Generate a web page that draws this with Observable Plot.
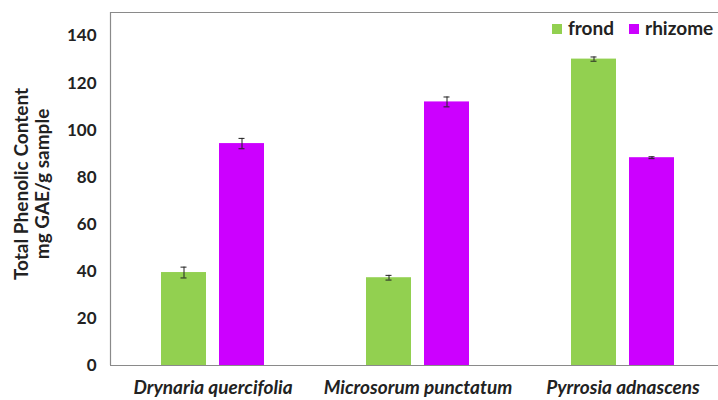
<!DOCTYPE html>
<html>
<head>
<meta charset="utf-8">
<script src="https://cdn.jsdelivr.net/npm/d3@7"></script>
<script src="https://cdn.jsdelivr.net/npm/@observablehq/plot@0.6"></script>
<style>
  html, body { margin: 0; padding: 0; background: #fff; }
  #wrap { position: relative; width: 718px; height: 400px; overflow: hidden; }
  #legend { position: absolute; top: 16px; left: 552px; font-family: Lato, sans-serif; font-weight: bold; font-size: 19px; color: #222; display: flex; gap: 15px; white-space: nowrap; }
  #legend span.sw { display: inline-block; width: 10px; height: 10px; margin-right: 6px; vertical-align: 1px; }
  #ylabel { position: absolute; left: 31px; top: 184px; transform: translate(-50%, -50%) rotate(-90deg); font-family: Lato, sans-serif; font-weight: bold; font-size: 19px; line-height: 21px; color: #222; text-align: center; white-space: nowrap; }
</style>
</head>
<body>
<div id="wrap"><div id="legend"></div><div id="ylabel"></div></div>
<script>
const species = ["Drynaria quercifolia", "Microsorum punctatum", "Pyrrosia adnascens"];
const parts = ["frond", "rhizome"];
const colors = ["#92D050", "#CC00FF"];
const frond = [39.5, 37.3, 130.2];
const frondErr = [2.3, 1.0, 0.9];
const rhizome = [94.3, 112.0, 88.3];
const rhizomeErr = [2.2, 2.1, 0.4];
const yTicks = [0, 20, 40, 60, 80, 100, 120, 140];
const yLabelLines = ["Total Phenolic Content", "mg GAE/g sample"];

const data = [];
species.forEach((s, i) => {
  data.push({species: s, part: "frond", value: frond[i], err: frondErr[i]});
  data.push({species: s, part: "rhizome", value: rhizome[i], err: rhizomeErr[i]});
});
const fr = data.filter(d => d.part === "frond");
const rh = data.filter(d => d.part === "rhizome");

// band step is 205px: bars 45px wide, 13px apart, centred in band
const step = 205;
const bw = 45, gap = 13;
const fL = (step - 2 * bw - gap) / 2;
const rL = fL + bw + gap;
const fC = fL + bw / 2, rC = rL + bw / 2;
const cap = 3;

const errMarks = (arr, c) => [
  Plot.ruleX(arr, {x: "species", y1: d => d.value - d.err, y2: d => d.value + d.err, dx: c - step / 2, stroke: "#222", strokeWidth: 1}),
  Plot.tickY(arr, {x: "species", y: d => d.value + d.err, insetLeft: c - cap, insetRight: step - c - cap, stroke: "#222", strokeWidth: 1}),
  Plot.tickY(arr, {x: "species", y: d => d.value - d.err, insetLeft: c - cap, insetRight: step - c - cap, stroke: "#222", strokeWidth: 1})
];

const chart = Plot.plot({
  width: 718,
  height: 400,
  marginLeft: 110,
  marginTop: 12,
  marginBottom: 35,
  marginRight: 0,
  style: {fontFamily: "Lato, sans-serif", color: "#222", background: "white"},
  x: {domain: species, range: [110, 110 + 3 * step], padding: 0, label: null},
  y: {domain: [0, 150], label: null},
  marks: [
    Plot.barY(fr, {x: "species", y: "value", fill: colors[0], insetLeft: fL, insetRight: step - fL - bw}),
    Plot.barY(rh, {x: "species", y: "value", fill: colors[1], insetLeft: rL, insetRight: step - rL - bw}),
    ...errMarks(fr, fC),
    ...errMarks(rh, rC),
    Plot.ruleX([0], {x: () => species[0], dx: -step / 2, y1: 0, y2: 150, stroke: "#8a8a8a", strokeWidth: 1.2}),
    Plot.ruleY([150], {stroke: "#8a8a8a", strokeWidth: 1.2}),
    Plot.ruleY([0], {stroke: "#8a8a8a", strokeWidth: 1.2}),
    Plot.axisY({ticks: yTicks, tickSize: 0, tickPadding: 14, fontSize: 17, fontWeight: "bold", label: null}),
    Plot.axisX({tickSize: 0, tickPadding: 15, fontSize: 19, fontWeight: "bold", fontStyle: "italic", label: null})
  ]
});
document.getElementById("wrap").prepend(chart);

const lg = document.getElementById("legend");
parts.forEach((p, i) => {
  const item = document.createElement("div");
  item.innerHTML = `<span class="sw" style="background:${colors[i]}"></span>${p}`;
  lg.appendChild(item);
});
document.getElementById("ylabel").innerHTML = yLabelLines.join("<br>");
</script>
</body>
</html>
